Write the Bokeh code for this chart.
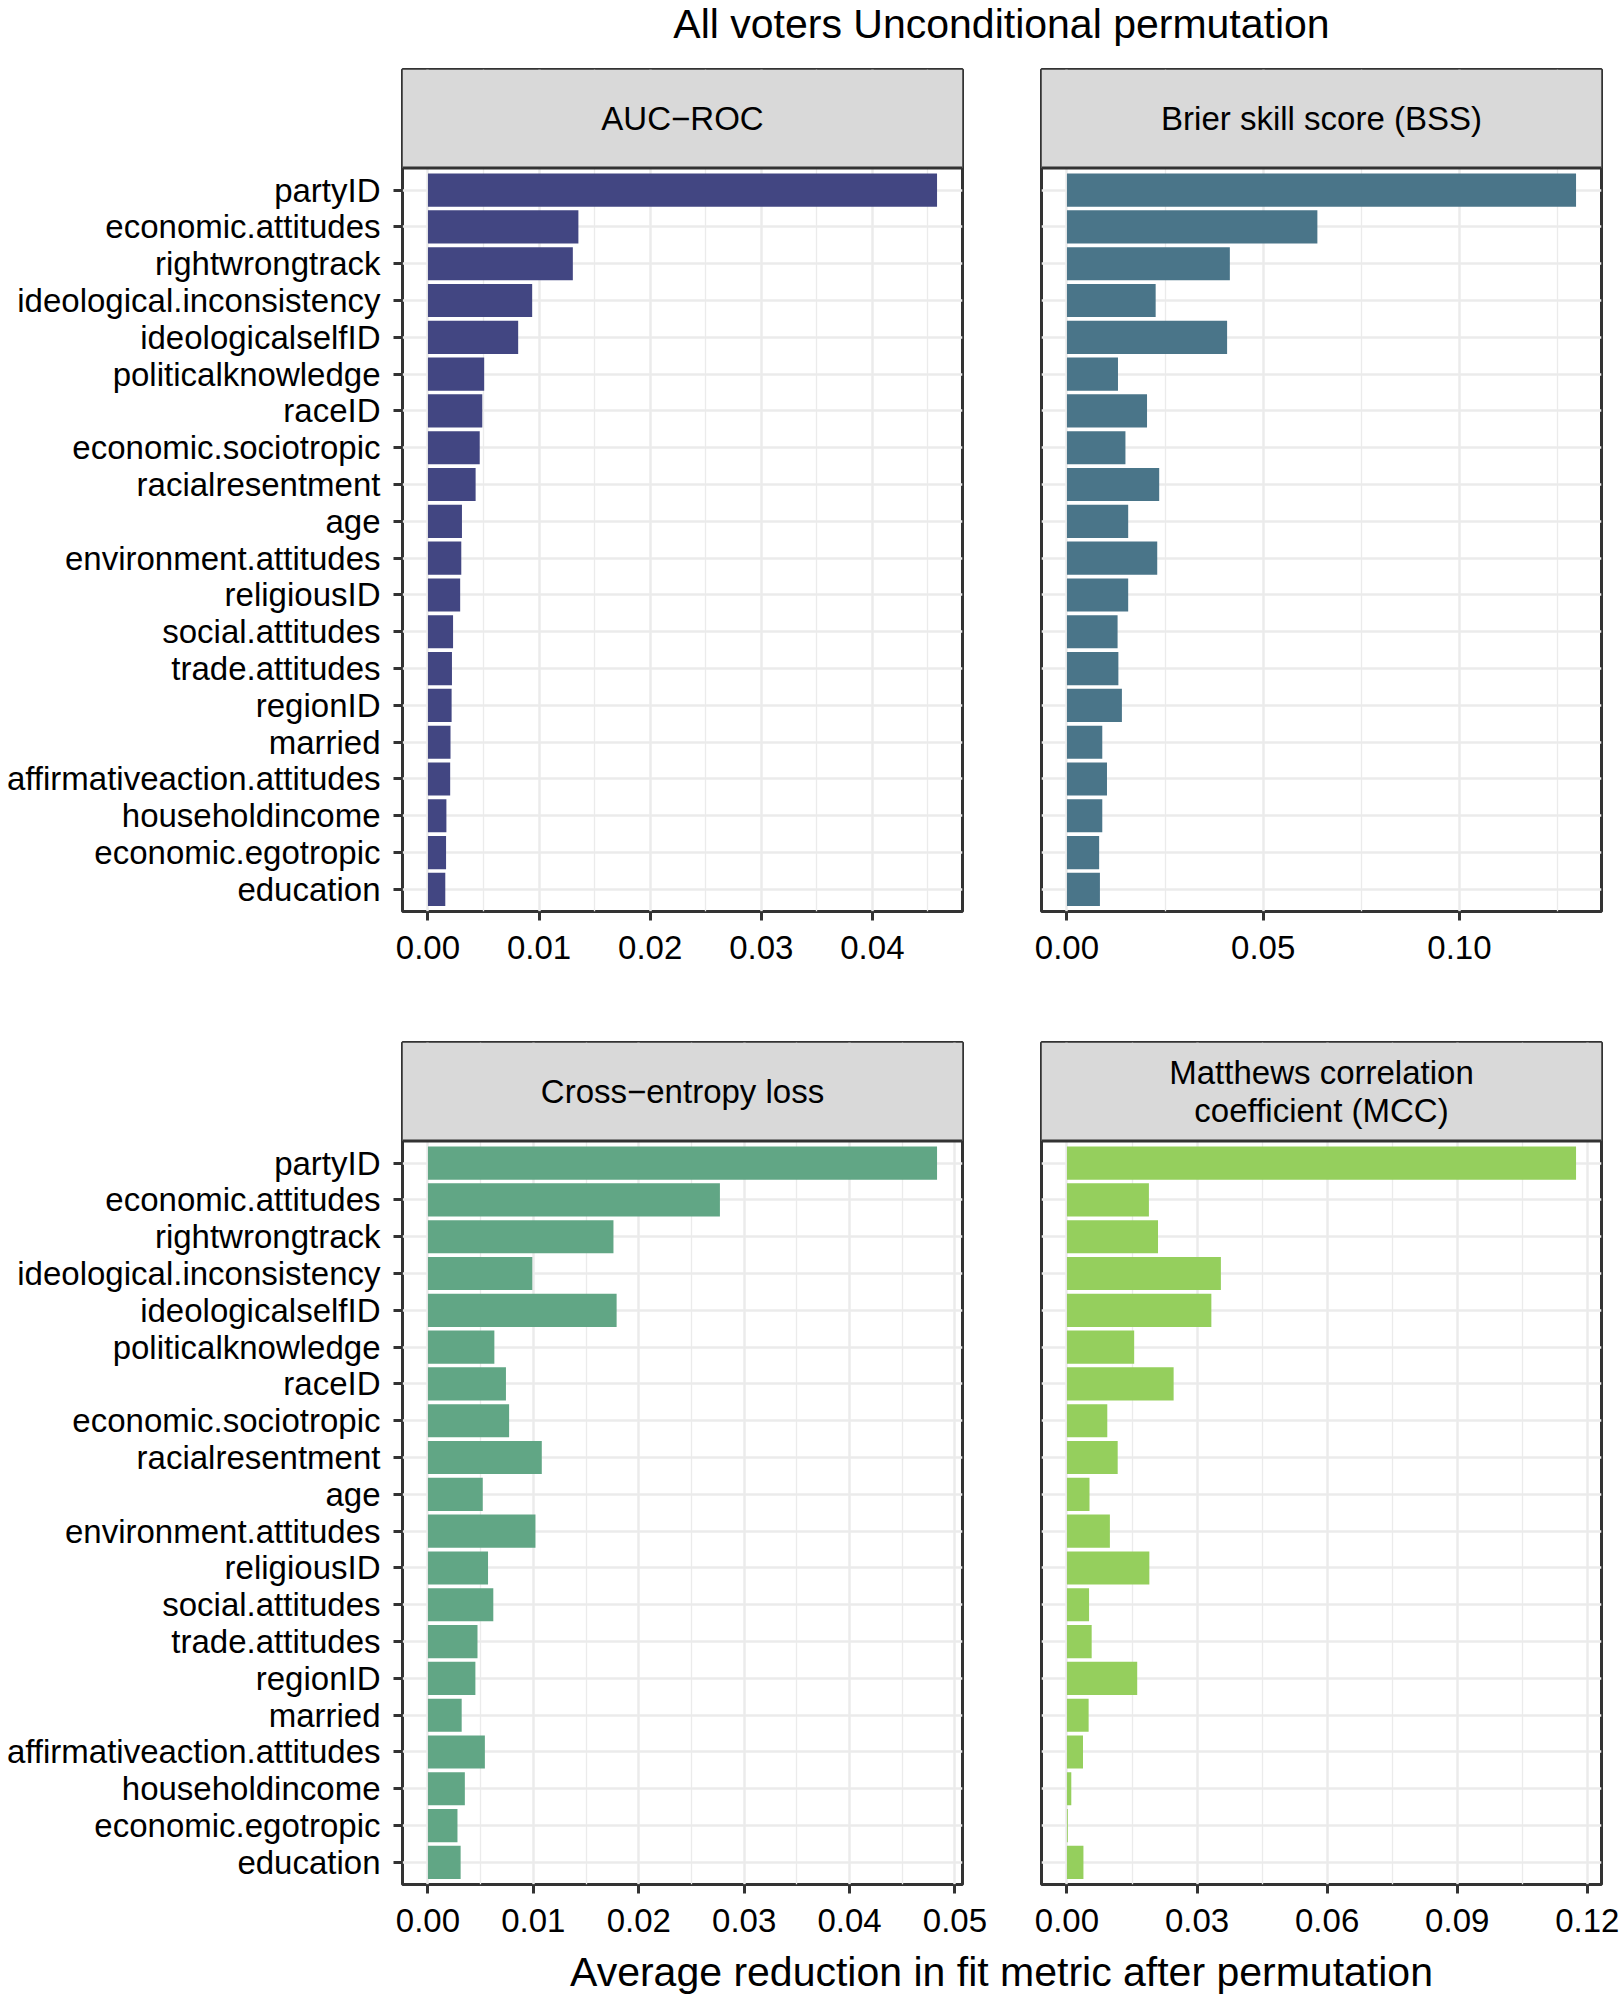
from bokeh.plotting import figure
from bokeh.layouts import column, row
from bokeh.models import Range1d, FixedTicker, NumeralTickFormatter, Span, Label, ColumnDataSource
from bokeh.core.properties import value
from bokeh.embed import file_html
from bokeh.resources import INLINE

# ---------------- data ----------------
categories = ["partyID", "economic.attitudes", "rightwrongtrack", "ideological.inconsistency",
              "ideologicalselfID", "politicalknowledge", "raceID", "economic.sociotropic",
              "racialresentment", "age", "environment.attitudes", "religiousID",
              "social.attitudes", "trade.attitudes", "regionID", "married",
              "affirmativeaction.attitudes", "householdincome", "economic.egotropic", "education"]

auc_roc = [0.04582, 0.01354, 0.01304, 0.00938, 0.00812, 0.00506, 0.00489, 0.00466, 0.00429, 0.00306,
           0.00300, 0.00290, 0.00226, 0.00216, 0.00213, 0.00203, 0.00200, 0.00166, 0.00163, 0.00156]
bss = [0.1297, 0.0638, 0.0415, 0.0226, 0.0408, 0.0130, 0.0204, 0.0149, 0.0235, 0.0156,
       0.0230, 0.0156, 0.0129, 0.0131, 0.0140, 0.0090, 0.0102, 0.0090, 0.0082, 0.0084]
cross_entropy = [0.0483, 0.0277, 0.0176, 0.0099, 0.0179, 0.0063, 0.0074, 0.0077, 0.0108, 0.0052,
                 0.0102, 0.0057, 0.0062, 0.0047, 0.0045, 0.0032, 0.0054, 0.0035, 0.0028, 0.0031]
mcc = [0.1174, 0.0189, 0.0210, 0.0355, 0.0333, 0.0155, 0.0246, 0.0093, 0.0117, 0.0052,
       0.0099, 0.0190, 0.0051, 0.0057, 0.0162, 0.0050, 0.0037, 0.0010, 0.0002, 0.0038]

panel_titles = ["AUC\u2212ROC", "Brier skill score (BSS)", "Cross\u2212entropy loss",
                "Matthews correlation\ncoefficient (MCC)"]
auc_ticks = [0.00, 0.01, 0.02, 0.03, 0.04]
bss_ticks = [0.00, 0.05, 0.10]
ce_ticks = [0.00, 0.01, 0.02, 0.03, 0.04, 0.05]
mcc_ticks = [0.00, 0.03, 0.06, 0.09, 0.12]

main_title = "All voters Unconditional permutation"
x_title = "Average reduction in fit metric after permutation"

colors = ["#424682", "#4a7589", "#61a685", "#95cf5d"]

FONT = "Liberation Sans"
STRIP_PX = 98.5
BORDER = "#333333"
GRID = "#ebebeb"


def make_panel(vals, ticks, color, title, width, height, mbl, mbr, mbt, mbb, show_y):
    n = len(categories)
    ys = [n - i for i in range(n)]
    vmax = max(vals)
    x0, x1 = -0.05 * vmax, 1.05 * vmax
    frame_h = height - mbt - mbb
    panel_px = frame_h - STRIP_PX
    lo, hi = 0.4, n + 0.6
    y_end = hi + STRIP_PX * (hi - lo) / panel_px

    p = figure(width=width, height=height, x_range=Range1d(x0, x1), y_range=Range1d(lo, y_end),
               output_backend="svg", toolbar_location=None,
               min_border_left=mbl, min_border_right=mbr, min_border_top=mbt, min_border_bottom=mbb)
    p.background_fill_color = "white"
    p.border_fill_color = "white"
    p.outline_line_color = BORDER
    p.outline_line_width = 3

    step = ticks[1] - ticks[0]
    minors = [t + step / 2 for t in ticks]
    minors = [m for m in minors if x0 <= m <= x1]

    p.xgrid.ticker = FixedTicker(ticks=ticks, minor_ticks=minors)
    p.xgrid.grid_line_color = GRID
    p.xgrid.grid_line_width = 2.5
    p.xgrid.minor_grid_line_color = GRID
    p.xgrid.minor_grid_line_width = 1.3
    p.ygrid.ticker = FixedTicker(ticks=ys)
    p.ygrid.grid_line_color = GRID
    p.ygrid.grid_line_width = 2.5

    src = ColumnDataSource(dict(y=ys, v=vals))
    p.hbar(y="y", left=0, right="v", height=0.9, source=src, fill_color=color, line_color=None)

    # facet strip
    p.quad(left=[x0], right=[x1], bottom=[hi], top=[y_end], fill_color="#d9d9d9", line_color=None)
    p.add_layout(Span(location=hi, dimension="width", line_color=BORDER, line_width=3))
    p.text(x=[(x0 + x1) / 2], y=[(hi + y_end) / 2], text=[title], text_align="center",
           text_baseline="middle", text_font=value(FONT), text_font_size=value("33px"),
           text_color="black", text_line_height=1.02)

    ax = p.xaxis[0]
    ax.ticker = FixedTicker(ticks=ticks)
    ax.formatter = NumeralTickFormatter(format="0.00")
    ax.axis_line_color = None
    ax.major_tick_line_color = BORDER
    ax.major_tick_line_width = 3
    ax.major_tick_out = 9
    ax.major_tick_in = 0
    ax.minor_tick_line_color = None
    ax.major_label_text_font = FONT
    ax.major_label_text_font_size = "33px"
    ax.major_label_text_color = "black"
    ax.major_label_standoff = 15

    ya = p.yaxis[0]
    if show_y:
        ya.ticker = FixedTicker(ticks=ys)
        ya.major_label_overrides = {y: c for y, c in zip(ys, categories)}
        ya.axis_line_color = None
        ya.major_tick_line_color = BORDER
        ya.major_tick_line_width = 3
        ya.major_tick_out = 9
        ya.major_tick_in = 0
        ya.minor_tick_line_color = None
        ya.major_label_text_font = FONT
        ya.major_label_text_font_size = "33px"
        ya.major_label_text_color = "black"
        ya.major_label_standoff = 13
    else:
        ya.visible = False
    return p


p1 = make_panel(auc_roc, auc_ticks, colors[0], panel_titles[0], 1001, 942, 402, 39, 11, 89, True)
p2 = make_panel(bss, bss_ticks, colors[1], panel_titles[1], 620, 942, 40, 20, 11, 89, False)
p3 = make_panel(cross_entropy, ce_ticks, colors[2], panel_titles[2], 1001, 945, 402, 39, 42, 61, True)
p4 = make_panel(mcc, mcc_ticks, colors[3], panel_titles[3], 620, 945, 40, 20, 42, 61, False)


def text_fig(height, ylab, txt):
    f = figure(width=1621, height=height, x_range=Range1d(0, 1621), y_range=Range1d(0, height),
               output_backend="svg", toolbar_location=None, min_border=0,
               x_axis_location=None, y_axis_location=None)
    f.outline_line_color = None
    f.xgrid.visible = False
    f.ygrid.visible = False
    f.add_layout(Label(x=1001, y=ylab, text=txt, text_align="center", text_baseline="middle",
                       text_font=FONT, text_font_size="41px", text_color="black"))
    return f


tf = text_fig(58, 35, main_title)
xf = text_fig(62, 36, x_title)

layout = column(tf, row(p1, p2), row(p3, p4), xf)

open("out.html", "w").write(file_html(layout, INLINE))
